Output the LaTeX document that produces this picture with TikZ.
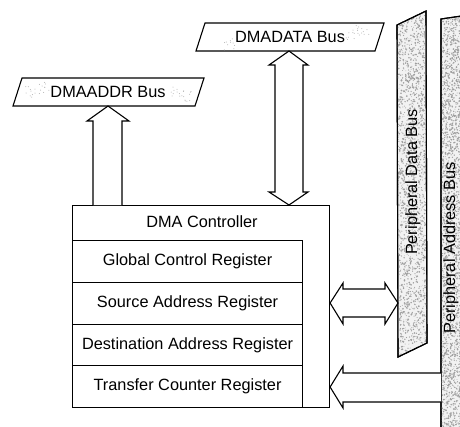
\documentclass[tikz,border=0pt]{standalone}
\usepackage{fontspec}
\setmainfont{Liberation Sans}
\usetikzlibrary{calc}
\begin{document}
\begin{tikzpicture}[x=1pt,y=-1pt,line width=1.1pt,line join=miter,
  lbl/.style={font=\fontsize{16.3}{19}\selectfont,inner sep=0pt},
  regbox/.style={draw,minimum width=230pt,minimum height=41.75pt,anchor=north west,
    inner sep=0pt,font=\fontsize{16.3}{19}\selectfont},
  busshape/.style={draw,fill=gray!10},
  blockarrow/.style={draw,fill=white},
  speck/.style={fill=gray!75}]
\useasboundingbox (0,0) rectangle (460,426);

% ---- horizontal buses (parallelograms) ----
\coordinate (aTL) at (22,78);  \coordinate (aTR) at (204,78);
\coordinate (aBR) at (195,106);\coordinate (aBL) at (13,106);
\draw[busshape,fill=white] (aTL) -- (aTR) -- (aBR) -- (aBL) -- cycle;
\coordinate (dTL) at (205,23); \coordinate (dTR) at (384,23);
\coordinate (dBR) at (375,51); \coordinate (dBL) at (196,51);
\draw[busshape,fill=white] (dTL) -- (dTR) -- (dBR) -- (dBL) -- cycle;

% light speckles near the bus ends
\pgfmathsetseed{5}
\foreach \cx/\cy in {32/92,42/88,178/90,186/96,352/36,362/30,228/44}{
  \foreach \k in {1,...,10}{
    \pgfmathsetmacro{\px}{\cx+14*rnd-7}
    \pgfmathsetmacro{\py}{\cy+12*rnd-6}
    \fill[gray!60] (\px,\py) circle[radius=0.5];
  }
}
\node[lbl] (addrbus) at (108,92) {DMAADDR Bus};
\node[lbl] (databus) at (290,37) {DMADATA Bus};
\coordinate (aBot) at (108,106);
\coordinate (dBot) at (289,51);

% ---- peripheral buses (vertical bands) ----
\coordinate (pTL) at (397,25); \coordinate (pTR) at (426,11);
\coordinate (pBR) at (427,343);\coordinate (pBL) at (398,357);
\draw[busshape] (pTL) -- (pTR) -- (pBR) -- (pBL) -- cycle;
\begin{scope}
  \clip (pTL) -- (pTR) -- (pBR) -- (pBL) -- cycle;
  \pgfmathsetseed{11}
  \foreach \k in {1,...,2000}{
    \pgfmathsetmacro{\px}{397+30*rnd}
    \pgfmathsetmacro{\py}{10+350*rnd}
    \pgfmathsetmacro{\rr}{0.35+0.6*rnd}
    \fill[speck] (\px,\py) circle[radius=\rr];
  }
\end{scope}
\draw (pTL) -- (pTR) -- (pBR) -- (pBL) -- cycle;

\coordinate (qTL) at (441,19); \coordinate (qTR) at (475,14);
\coordinate (qBR) at (475,432);\coordinate (qBL) at (441,432);
\draw[busshape] (qTL) -- (qTR) -- (qBR) -- (qBL) -- cycle;
\begin{scope}
  \clip (qTL) -- (qTR) -- (qBR) -- (qBL) -- cycle;
  \pgfmathsetseed{23}
  \foreach \k in {1,...,2300}{
    \pgfmathsetmacro{\px}{441+22*rnd}
    \pgfmathsetmacro{\py}{14+418*rnd}
    \pgfmathsetmacro{\rr}{0.35+0.6*rnd}
    \fill[speck] (\px,\py) circle[radius=\rr];
  }
\end{scope}
\draw (qBL) -- (qTL) -- (qTR);
\node[lbl,rotate=90] (pdata) at (413,182) {Peripheral Data Bus};
\node[lbl,rotate=90] (paddr) at (451,248) {Peripheral Address Bus};

% ---- DMA controller with its registers ----
\node[draw,minimum width=257pt,minimum height=202pt,anchor=north west,inner sep=0pt]
  (ctrl) at (72,205) {};
\node[lbl] (title) at (202,222) {DMA Controller};
\node[regbox] (r1) at (72,240)    {Global Control Register};
\node[regbox] (r2) at (72,281.75) {Source Address Register};
\node[regbox] (r3) at (72,323.5)  {Destination Address Register};
\node[regbox] (r4) at (72,365.25) {Transfer Counter Register};

% ---- block arrows ----
% controller -> DMAADDR bus
\draw[blockarrow] (93,205) -- (93,121) -- (87,121) -- (aBot) -- (129,121)
  -- (122,121) -- (122,205);
% controller <-> DMADATA bus
\draw[blockarrow] (dBot) -- (308,65) -- (303,65) -- (303,192) -- (308,192)
  -- (289,205) -- (269,192) -- (275,192) -- (275,65) -- (269,65) -- cycle;
% controller <-> peripheral data bus
\draw[blockarrow] (ctrl.east |- 0,303) -- (343,283) -- (343,289) -- (385,289)
  -- (385,283) -- (pBL |- 0,303) -- (385,324) -- (385,317) -- (343,317)
  -- (343,324) -- cycle;
% peripheral address bus -> transfer counter
\draw[blockarrow] (qBL |- 0,373) -- (343,373) -- (343,366) -- (ctrl.east |- 0,387)
  -- (343,408) -- (343,402) -- (qBL |- 0,402);
\end{tikzpicture}
\end{document}
